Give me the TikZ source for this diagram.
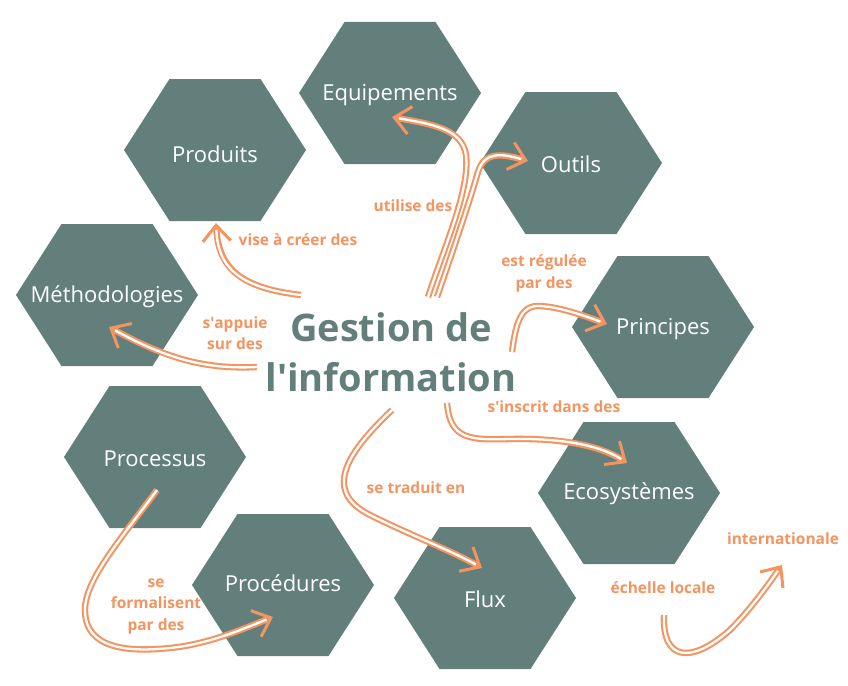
\documentclass[tikz,border=0pt]{standalone}
\usepackage{fontspec}
\setmainfont{Open Sans}
\usetikzlibrary{arrows.meta,calc}
\definecolor{hexc}{HTML}{627F7C}
\definecolor{orng}{HTML}{F39461}
\pgfdeclarelayer{bg}
\pgfsetlayers{bg,main}
\tikzset{
  hexlabel/.style={text=white, font=\fontsize{22}{26}\selectfont, inner sep=0pt, anchor=base},
  hexlink/.style={draw=hexc, line width=7pt, line join=round},
  lbl/.style={text=orng, font=\bfseries\fontsize{15.5}{21.5}\selectfont, align=center, inner sep=0pt},
  titletext/.style={text=hexc, font=\bfseries\fontsize{38}{50}\selectfont, align=center, inner sep=0pt},
  flowout/.style={draw=orng, line width=6.4pt, -{Straight Barb[length=16pt,width=28pt,line width=3pt]}},
  flowin/.style={draw=white, line width=2.3pt, shorten >=7pt}
}
\newcommand{\flowpath}[1]{\draw[flowout] #1; \draw[flowin] #1;}
% name, cx, cy, baseline y, text
\newcommand{\hexcell}[5]{%
  \fill[hexc] (#2-91,#3) -- (#2-45.5,#3-71) -- (#2+45.5,#3-71) -- (#2+91,#3)
     -- (#2+45.5,#3+71) -- (#2-45.5,#3+71) -- cycle;
  \node[hexlabel] (#1) at (#2,#4) {#5};
  \coordinate (#1c) at (#2,#3);}
\begin{document}
\begin{tikzpicture}[x=1pt,y=-1pt]
\fill[white] (0,0) rectangle (848,685);
\useasboundingbox (0,0) rectangle (848,685);

\hexcell{equip}{390}{93}{100}{Equipements}
\hexcell{prod}{215}{150}{162}{Produits}
\hexcell{outils}{571}{163}{172}{Outils}
\hexcell{princ}{663}{327}{334}{Principes}
\hexcell{meth}{107}{295}{302}{Méthodologies}
\hexcell{procs}{155}{457}{466}{Processus}
\hexcell{proced}{283}{585}{591}{Procédures}
\hexcell{flux}{485}{598}{607}{Flux}
\hexcell{eco}{629}{493}{499}{Ecosystèmes}

\begin{pgfonlayer}{bg}
\draw[hexlink] ([shift={(68,-6)}]prodc) -- ([shift={(-60,22)}]equipc);
\draw[hexlink] ([shift={(65,33)}]equipc) -- ([shift={(96,34)}]equipc) -- ([shift={(-66,-23)}]outilsc);
\draw[hexlink] ([shift={(32,67)}]outilsc) -- ([shift={(41,77)}]outilsc) -- ([shift={(-43,-62)}]princc);
\draw[hexlink] ([shift={(-18,65)}]princc) -- ([shift={(-9,-63)}]ecoc);
\draw[hexlink] ([shift={(-67,27)}]ecoc) -- ([shift={(-81,44)}]ecoc) -- ([shift={(50,-53)}]fluxc);
\draw[hexlink] ([shift={(77,0)}]procedc) -- ([shift={(104,8)}]procedc) -- ([shift={(-75,-13)}]fluxc);
\draw[hexlink] ([shift={(57,48)}]procsc) -- ([shift={(-47,-45)}]procedc);
\draw[hexlink] ([shift={(44,65)}]methc) -- ([shift={(-9,-65)}]procsc);
\draw[hexlink] ([shift={(-31,65)}]prodc) -- ([shift={(65,-35)}]methc);
\end{pgfonlayer}

\node[titletext] (gest) at (391,352.6) {Gestion de\\l\textquotesingle information};

\node[lbl, anchor=base] (l1) at (413,211) {utilise des};
\node[lbl, anchor=base] (l2) at (298,245) {vise à créer des};
\node[lbl] (l3) at (235,333) {s\textquotesingle appuie\\sur des};
\node[lbl] (l4) at (544,273.4) {est régulée\\par des};
\node[lbl, anchor=base] (l5) at (554,412) {s\textquotesingle inscrit dans des};
\node[lbl, anchor=base] (l6) at (416,493) {se traduit en};
\node[lbl] (l7) at (156,606.2) {se\\formalisent\\par des};
\node[lbl, anchor=base] (l8) at (783,544) {internationale};
\node[lbl, anchor=base] (l9) at (663,593) {échelle locale};

% flow arrows
\coordinate (s1) at (428,297); \coordinate (t1) at (392,117);
\coordinate (s2) at (437,297); \coordinate (t2) at (528,161);
\coordinate (s3) at (301,295); \coordinate (t3) at (216,223);
\coordinate (s4) at (257,367); \coordinate (t4) at (109,327);
\coordinate (s5) at (512,352); \coordinate (t5) at (607,324);
\coordinate (s6) at (447,403); \coordinate (t6) at (627,463);
\coordinate (s7) at (392,410); \coordinate (t7) at (482,568);
\coordinate (s8) at (157,490); \coordinate (t8) at (273,617);
\coordinate (s9) at (664,615); \coordinate (t9) at (782,565);

\flowpath{(s1) .. controls (445,245) and (470,190) .. (466,155) .. controls (462,128) and (430,124) .. (t1)}
\flowpath{(s2) .. controls (455,245) and (470,200) .. (478,172) .. controls (484,152) and (500,153) .. (t2)}
\flowpath{(s3) .. controls (240,288) and (218,268) .. (t3)}
\flowpath{(s4) .. controls (200,370) and (160,355) .. (t4)}
\flowpath{(s5) .. controls (516,320) and (522,305) .. (540,306) .. controls (560,307) and (585,316) .. (t5)}
\flowpath{(s6) .. controls (450,440) and (470,440) .. (510,439) .. controls (560,438) and (600,445) .. (t6)}
\flowpath{(s7) .. controls (350,450) and (320,490) .. (370,515) .. controls (410,535) and (450,550) .. (t7)}
\flowpath{(s8) .. controls (120,540) and (85,580) .. (85,610) .. controls (85,650) and (130,652) .. (170,648) .. controls (210,644) and (245,628) .. (t8)}
\flowpath{(s9) .. controls (662,660) and (690,665) .. (730,630) .. controls (750,610) and (768,585) .. (t9)}
\end{tikzpicture}
\end{document}
